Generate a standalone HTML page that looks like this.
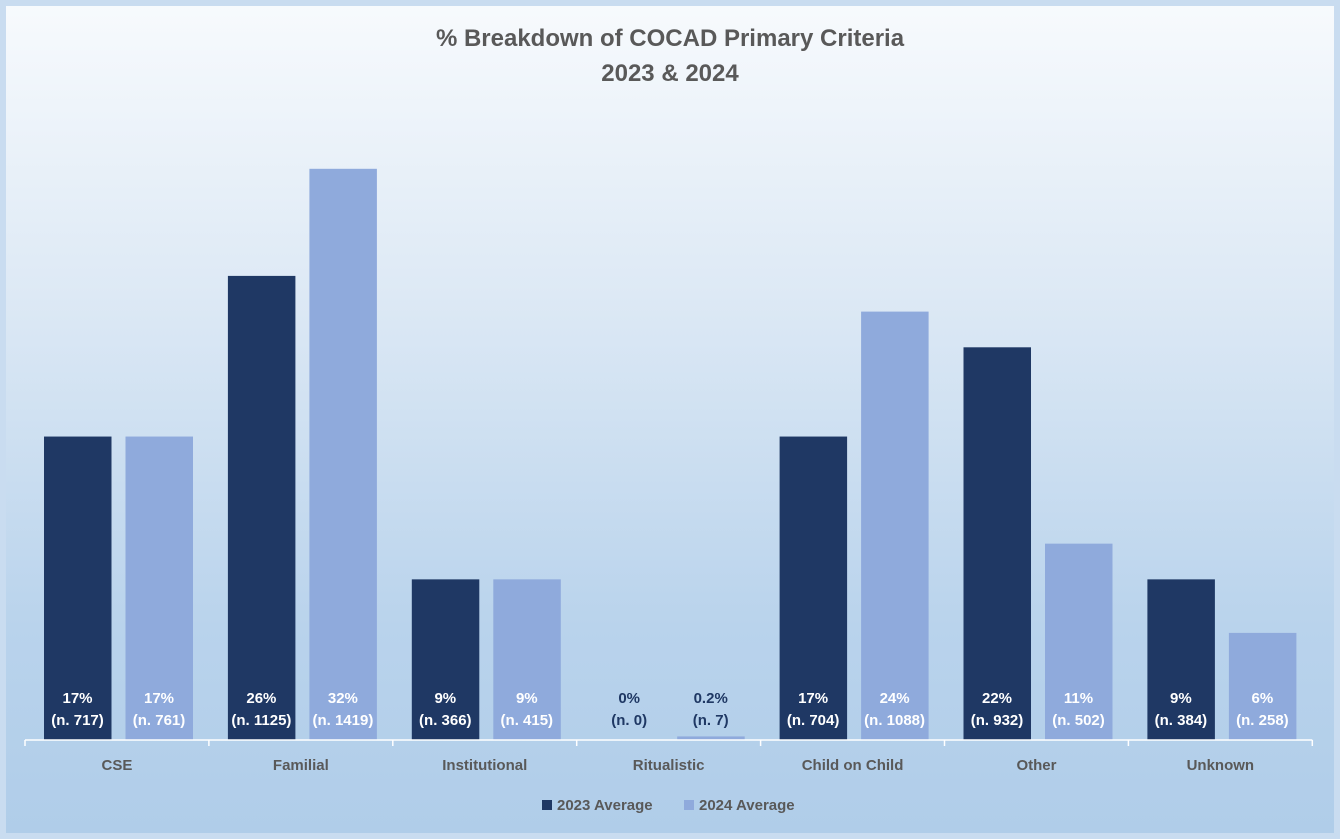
<!DOCTYPE html>
<html><head><meta charset="utf-8"><style>
html,body{margin:0;padding:0;width:1340px;height:839px;overflow:hidden;font-family:"Liberation Sans",sans-serif;}
#chart-frame{position:absolute;left:0;top:0;width:1340px;height:839px;background:#c9dcf0;}
#chart-area{position:absolute;left:6px;top:6px;width:1328px;height:827px;background:linear-gradient(#f7fafd 0%,#dde9f5 35%,#b9d3ec 75%,#b0cde9 100%);}
</style></head><body>
<div id="chart-frame">
<div id="chart-area"></div>
<svg id="svg" width="1340" height="839" style="position:absolute;left:0;top:0">
<text x="670" y="46" text-anchor="middle" font-size="24" font-weight="bold" fill="#595959">% Breakdown of COCAD Primary Criteria</text>
<text x="670" y="81" text-anchor="middle" font-size="24" font-weight="bold" fill="#595959">2023 &amp; 2024</text>
</svg>
</div>
<script>
const categories=["CSE","Familial","Institutional","Ritualistic","Child on Child","Other","Unknown"];
const values2023=[17,26,9,0,17,22,9];
const values2024=[17,32,9,0.2,24,11,6];
const labels2023=["17%","26%","9%","0%","17%","22%","9%"];
const labels2024=["17%","32%","9%","0.2%","24%","11%","6%"];
const counts2023=[717,1125,366,0,704,932,384];
const counts2024=[761,1419,415,7,1088,502,258];
const seriesNames=["2023 Average","2024 Average"];

const svg=document.getElementById('svg');
const NS='http://www.w3.org/2000/svg';
const x0=25,base=740,pxPer=17.85;
const bw=183.9;
const x1=x0+bw*categories.length;
const colors=["#1f3864","#8faadc"];
function y(v){return base-v*pxPer;}
function mk(tag,attrs){const e=document.createElementNS(NS,tag);for(const k in attrs)e.setAttribute(k,attrs[k]);svg.appendChild(e);return e;}
function txt(x,yy,s,fill,size,name){const t=mk('text',{x:x,y:yy,'text-anchor':'middle','font-size':size,'font-weight':'bold',fill:fill});t.textContent=s;


return t;}
categories.forEach((c,i)=>{
  const cx=x0+bw*i;
  [values2023,values2024].forEach((vals,s)=>{
    const bx=cx+19+s*81.5;
    const r=mk('rect',{x:bx,y:y(vals[i]),width:67.5,height:base-y(vals[i]),fill:colors[s]});
    
    
    const lab=s?labels2024[i]:labels2023[i];
    const n=s?counts2024[i]:counts2023[i];
    const fill=vals[i]<3?"#1f3864":"#ffffff";
    txt(bx+33.5,703,lab,fill,15,'data-label-pct');
    txt(bx+33.5,725,'(n. '+n+')',fill,15,'data-label-count');
  });
  txt(cx+bw/2,770,c,'#595959',15,'category-label');
});
const ax=mk('line',{x1:x0,y1:base,x2:x1,y2:base,stroke:'#ffffff','stroke-width':1.5});


for(let i=0;i<=categories.length;i++){
  const tk=mk('line',{x1:x0+bw*i,y1:base,x2:x0+bw*i,y2:base+6,stroke:'#ffffff','stroke-width':1.5});
  
  
}
const lx=[542,684];
seriesNames.forEach((s,i)=>{
  const r=mk('rect',{x:lx[i],y:800,width:10,height:10,fill:colors[i]});
  
  
  const t=mk('text',{x:lx[i]+15,y:810,'font-size':15,'font-weight':'bold',fill:'#595959'});
  t.textContent=s;
  
  
});
</script>
</body></html>
